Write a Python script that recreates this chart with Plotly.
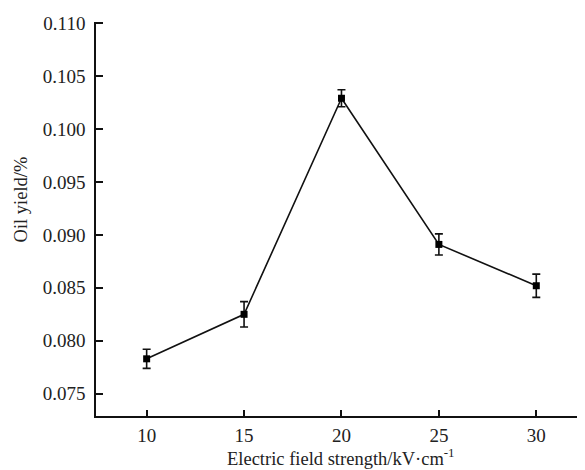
import plotly.graph_objects as go

field_strength = [10, 15, 20, 25, 30]
oil_yield = [0.0783, 0.0825, 0.1029, 0.0891, 0.0852]
yield_error = [0.0009, 0.0012, 0.0008, 0.0010, 0.0011]
y_ticks = [0.075, 0.080, 0.085, 0.090, 0.095, 0.100, 0.105, 0.110]
x_ticks = [10, 15, 20, 25, 30]

font_family = "Liberation Serif, Times New Roman, serif"

fig = go.Figure()
fig.add_trace(go.Scatter(
    x=field_strength, y=oil_yield,
    mode="lines+markers",
    line=dict(color="#111", width=1.6),
    marker=dict(symbol="square", size=7, color="#000"),
    error_y=dict(type="data", array=yield_error, visible=True,
                 color="#111", thickness=1.6, width=4),
    showlegend=False,
))

fig.update_layout(
    width=577, height=462,
    margin=dict(l=88, r=0, t=14, b=54, autoexpand=False),
    paper_bgcolor="white", plot_bgcolor="white",
    font=dict(family=font_family, size=19, color="#222"),
    xaxis=dict(
        range=[7.4, 32.5],
        tickvals=x_ticks,
        ticks="inside", ticklen=6, tickwidth=1.6, tickcolor="#111",
        ticklabelstandoff=1,
        showline=True, linecolor="#111", linewidth=1.6,
        showgrid=False, zeroline=False, automargin=False,
    ),
    yaxis=dict(
        range=[0.0729, 0.1101],
        tickvals=y_ticks, tickformat=".3f",
        ticks="inside", ticklen=7, tickwidth=1.6, tickcolor="#111",
        ticklabelstandoff=5,
        showline=True, linecolor="#111", linewidth=1.6,
        showgrid=False, zeroline=False, automargin=False,
    ),
    annotations=[
        dict(
            text="Oil yield/%", textangle=-90,
            xref="paper", yref="paper", x=-0.153, y=0.55,
            xanchor="center", yanchor="middle", showarrow=False,
            font=dict(size=18.5, color="#222", family=font_family),
        ),
        dict(
            text="Electric field strength/kV·cm<sup>-1</sup>",
            xref="paper", yref="paper", x=0.5, y=-0.105,
            xanchor="center", yanchor="middle", showarrow=False,
            font=dict(size=18.5, color="#222", family=font_family),
        ),
    ],
)

fig.write_html("out.html")
